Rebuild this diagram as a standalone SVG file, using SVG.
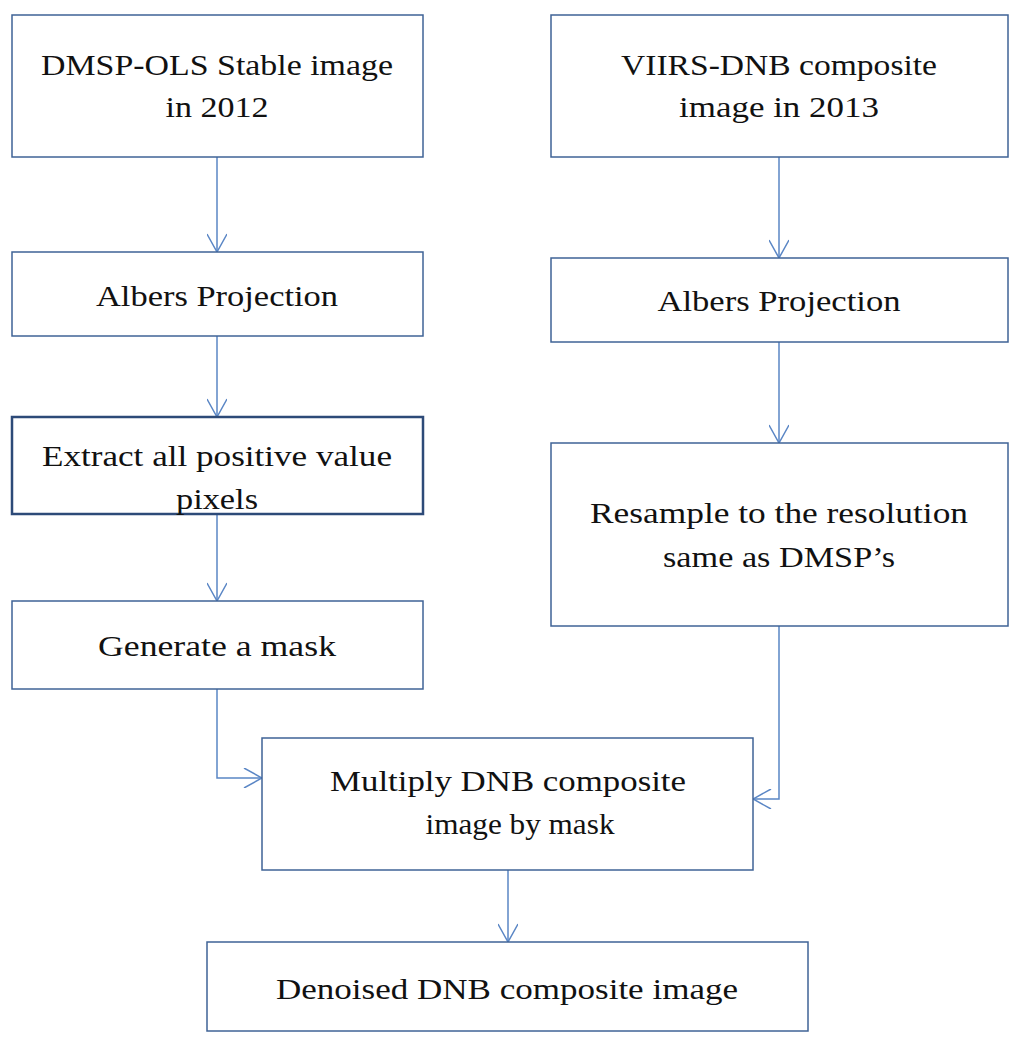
<svg xmlns="http://www.w3.org/2000/svg" width="1024" height="1044" viewBox="0 0 1024 1044">
<defs>
<style>
.b{fill:#fff;stroke:#3f6396;stroke-width:1.5}
.t{font-family:"Liberation Serif",serif;font-size:30px;fill:#111;text-anchor:middle}
.c{fill:none;stroke:#5a86c5;stroke-width:1.5}
</style>
<marker id="a" viewBox="0 0 20 20" refX="20" refY="10" markerWidth="20" markerHeight="20" markerUnits="userSpaceOnUse" orient="auto">
<path d="M2,0 L20,10 L2,20" fill="none" stroke="#5a86c5" stroke-width="1.5"/>
</marker>
</defs>
<rect width="1024" height="1044" fill="#fff"/>
<g id="connectors">
<path class="c" d="M217,157 V252" marker-end="url(#a)"/>
<path class="c" d="M217,336 V417" marker-end="url(#a)"/>
<path class="c" d="M217,514 V601" marker-end="url(#a)"/>
<path class="c" d="M779,157 V258" marker-end="url(#a)"/>
<path class="c" d="M779,342 V443" marker-end="url(#a)"/>
<path class="c" d="M217,689 V778 H262" marker-end="url(#a)"/>
<path class="c" d="M779,626 V799 H753" marker-end="url(#a)"/>
<path class="c" d="M508,870 V942" marker-end="url(#a)"/>
</g>
<g id="n1"><rect class="b" x="12" y="15" width="411" height="142"/><text class="t" x="217" y="75" textLength="352" lengthAdjust="spacingAndGlyphs">DMSP-OLS Stable image</text><text class="t" x="217" y="117" textLength="103" lengthAdjust="spacingAndGlyphs">in 2012</text></g>
<g id="n2"><rect class="b" x="551" y="15" width="457" height="142"/><text class="t" x="779" y="75" textLength="316" lengthAdjust="spacingAndGlyphs">VIIRS-DNB composite</text><text class="t" x="779" y="117" textLength="200" lengthAdjust="spacingAndGlyphs">image in 2013</text></g>
<g id="n3"><rect class="b" x="12" y="252" width="411" height="84"/><text class="t" x="217" y="306" textLength="242" lengthAdjust="spacingAndGlyphs">Albers Projection</text></g>
<g id="n4"><rect class="b" x="551" y="258" width="457" height="84"/><text class="t" x="779" y="311" textLength="243" lengthAdjust="spacingAndGlyphs">Albers Projection</text></g>
<g id="n5"><rect class="b" x="12" y="417" width="411" height="97" style="stroke:#2d4a78;stroke-width:2.5"/><text class="t" x="217" y="466" textLength="350" lengthAdjust="spacingAndGlyphs">Extract all positive value</text><text class="t" x="217" y="509" textLength="82" lengthAdjust="spacingAndGlyphs">pixels</text></g>
<g id="n6"><rect class="b" x="551" y="443" width="457" height="183"/><text class="t" x="779" y="523" textLength="378" lengthAdjust="spacingAndGlyphs">Resample to the resolution</text><text class="t" x="779" y="567" textLength="232" lengthAdjust="spacingAndGlyphs">same as DMSP’s</text></g>
<g id="n7"><rect class="b" x="12" y="601" width="411" height="88"/><text class="t" x="217" y="656" textLength="238" lengthAdjust="spacingAndGlyphs">Generate a mask</text></g>
<g id="n8"><rect class="b" x="262" y="738" width="491" height="132"/><text class="t" x="508" y="791" textLength="356" lengthAdjust="spacingAndGlyphs">Multiply DNB composite</text><text class="t" x="520" y="834" textLength="189" lengthAdjust="spacingAndGlyphs">image by mask</text></g>
<g id="n9"><rect class="b" x="207" y="942" width="601" height="89"/><text class="t" x="507" y="999" textLength="462" lengthAdjust="spacingAndGlyphs">Denoised DNB composite image</text></g>
</svg>
